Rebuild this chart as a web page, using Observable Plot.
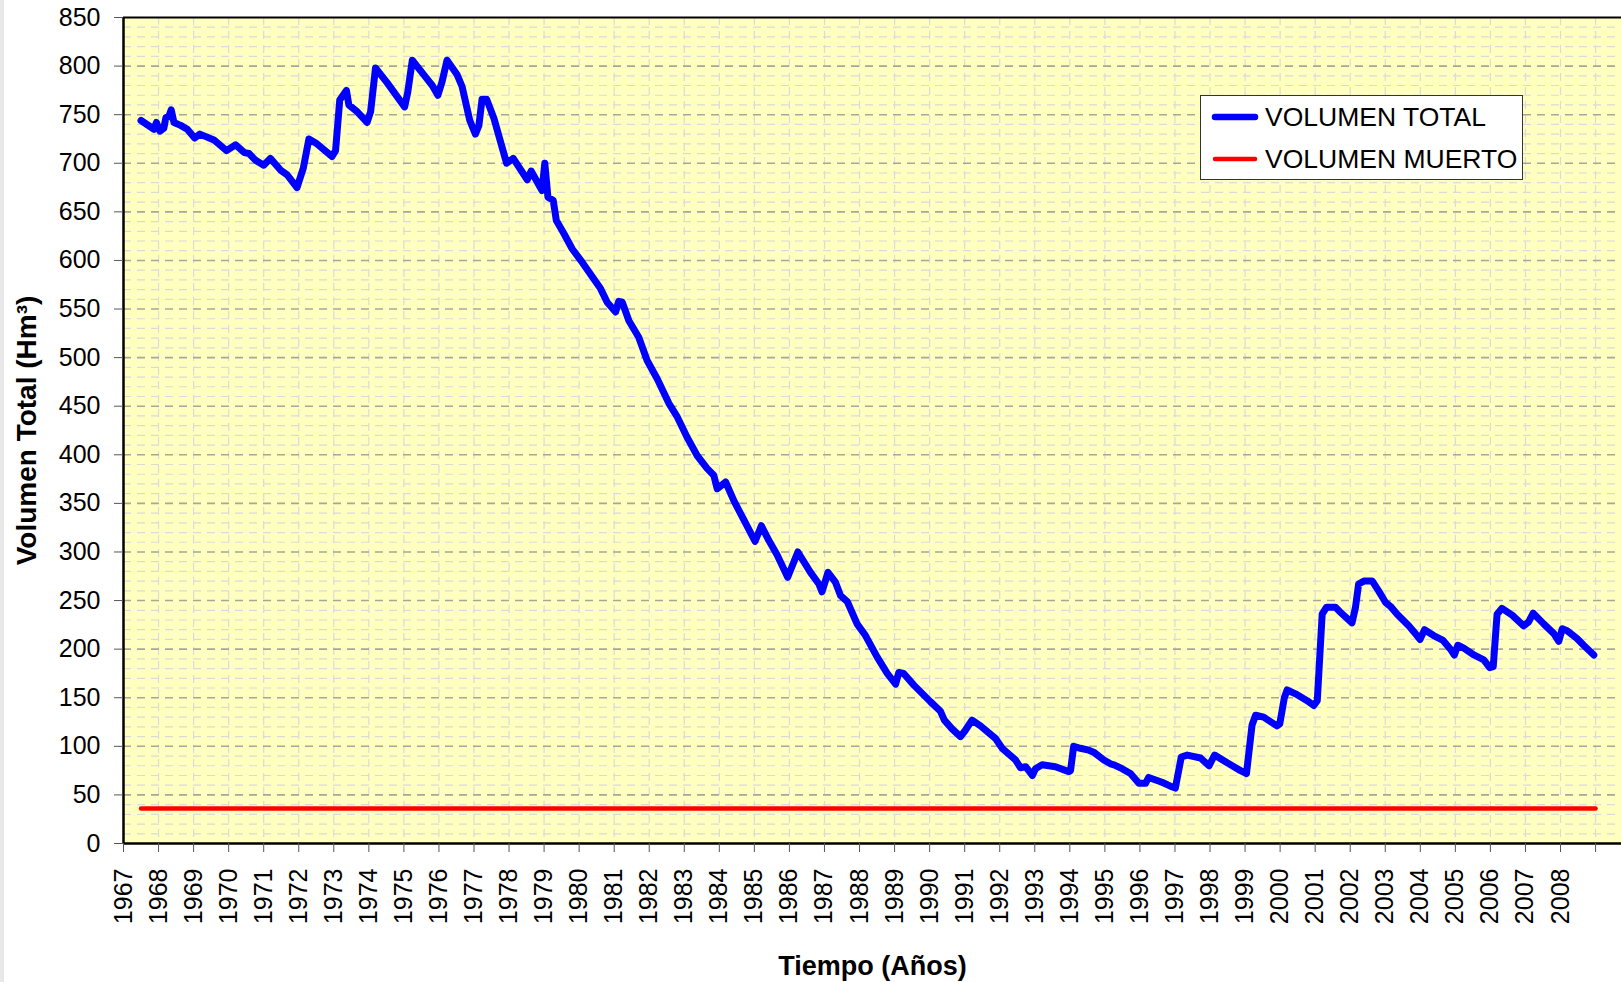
<!DOCTYPE html>
<html>
<head>
<meta charset="utf-8">
<script src="https://cdn.jsdelivr.net/npm/d3@7"></script>
<script src="https://cdn.jsdelivr.net/npm/@observablehq/plot@0.6"></script>
<style>
  html, body { margin: 0; padding: 0; background: #ffffff; }
  #wrap { position: relative; width: 1621px; height: 982px; overflow: hidden; font-family: "Liberation Sans", Arial, sans-serif; }
  #strip { position: absolute; left: 0; top: 0; width: 4px; height: 982px; background: #e8e8e8; }
  #chart svg [aria-label="x-axis label"] { font-weight: bold; font-size: 27px; }
  #chart svg [aria-label="y-axis label"] { font-weight: bold; font-size: 28px; }
  #legend { position: absolute; left: 1200px; top: 95px; width: 321px; height: 83px; border: 1px solid #333; background: #fff; }
  #legend .row { position: absolute; left: 0; height: 30px; display: flex; align-items: center; font-size: 26.5px; color: #000; white-space: nowrap; }
  #legend svg { display: block; margin-left: 10px; margin-right: 6px; }
</style>
</head>
<body>
<div id="wrap">
  <div id="strip"></div>
  <div id="chart"></div>
  <div id="legend">
    <div class="row" style="top: 6px;"><svg width="48" height="12"><line x1="4" x2="44" y1="6" y2="6" stroke="#0000ff" stroke-width="6.5" stroke-linecap="round"/></svg>VOLUMEN TOTAL</div>
    <div class="row" style="top: 48px;"><svg width="48" height="12"><line x1="4" x2="44" y1="6" y2="6" stroke="#ff0000" stroke-width="4.5" stroke-linecap="round"/></svg>VOLUMEN MUERTO</div>
  </div>
</div>
<script>
// Fechas (años decimales) y volumen total (Hm³)
const fecha = [
  1967.50, 1967.87, 1967.94, 1968.04, 1968.15, 1968.21, 1968.29, 1968.36, 1968.44, 1968.63,
  1968.82, 1969.03, 1969.18, 1969.58, 1969.94, 1970.20, 1970.45, 1970.58, 1970.77, 1971.00,
  1971.19, 1971.48, 1971.67, 1971.95, 1972.13, 1972.29, 1972.52, 1972.95, 1973.05, 1973.17,
  1973.36, 1973.43, 1973.67, 1973.95, 1974.05, 1974.19, 1974.52, 1975.02, 1975.11, 1975.24,
  1975.57, 1975.81, 1975.97, 1976.09, 1976.23, 1976.52, 1976.66, 1976.88, 1977.04, 1977.14,
  1977.23, 1977.36, 1977.57, 1977.93, 1978.12, 1978.52, 1978.63, 1978.94, 1979.02, 1979.11,
  1979.26, 1979.35, 1979.56, 1979.80, 1980.09, 1980.32, 1980.61, 1980.80, 1981.04, 1981.13,
  1981.23, 1981.42, 1981.70, 1981.94, 1982.23, 1982.56, 1982.80, 1983.08, 1983.37, 1983.65,
  1983.84, 1983.94, 1984.18, 1984.41, 1984.70, 1985.02, 1985.20, 1985.41, 1985.65, 1985.95,
  1986.24, 1986.60, 1986.84, 1986.93, 1987.10, 1987.31, 1987.46, 1987.65, 1987.93, 1988.17,
  1988.50, 1988.79, 1989.03, 1989.12, 1989.26, 1989.55, 1990.02, 1990.31, 1990.42, 1990.64,
  1990.88, 1991.01, 1991.21, 1991.45, 1991.88, 1992.07, 1992.45, 1992.59, 1992.74, 1992.93,
  1993.02, 1993.21, 1993.59, 1993.97, 1994.02, 1994.11, 1994.30, 1994.54, 1994.68, 1994.97,
  1995.16, 1995.26, 1995.49, 1995.73, 1995.97, 1996.16, 1996.25, 1996.63, 1996.87, 1997.01,
  1997.18, 1997.35, 1997.73, 1997.97, 1998.13, 1998.49, 1998.87, 1999.04, 1999.20, 1999.30,
  1999.53, 1999.91, 1999.99, 2000.12, 2000.20, 2000.44, 2000.77, 2000.96, 2001.06, 2001.20,
  2001.32, 2001.58, 2001.72, 2002.05, 2002.15, 2002.24, 2002.39, 2002.63, 2002.81, 2003.01,
  2003.15, 2003.34, 2003.67, 2003.86, 2003.99, 2004.12, 2004.38, 2004.65, 2004.86, 2004.97,
  2005.07, 2005.24, 2005.53, 2005.81, 2005.98, 2006.08, 2006.19, 2006.33, 2006.62, 2006.95,
  2007.09, 2007.22, 2007.52, 2007.81, 2007.95, 2008.05, 2008.19, 2008.47, 2008.66, 2008.95
];
const volumenTotal = [
  744, 735, 742, 733, 736, 747, 748, 755, 742, 739,
  735, 726, 730, 724, 713, 719, 711, 710, 703, 698,
  705, 693, 688, 675, 695, 725, 720, 707, 713, 765,
  775, 760, 753, 742, 753, 798, 783, 758, 773, 806,
  791, 780, 770, 784, 806, 791, 779, 744, 730, 739,
  766, 766, 746, 700, 705, 683, 692, 672, 700, 665,
  662, 641, 628, 612, 598, 586, 571, 557, 547, 558,
  557, 538, 521, 497, 478, 453, 439, 418, 399, 386,
  379, 365, 372, 353, 333, 311, 327, 312, 297, 274,
  300, 279, 267, 259, 279, 269, 255, 249, 226, 214,
  192, 175, 164, 176, 175, 163, 146, 136, 127, 118,
  110, 116, 127, 121, 108, 98, 86, 78, 79, 70,
  77, 81, 79, 74, 75, 100, 98, 96, 94, 86,
  82, 81, 77, 72, 62, 62, 68, 63, 59, 57,
  89, 91, 88, 80, 91, 83, 75, 72, 122, 132,
  130, 121, 123, 150, 158, 154, 147, 142, 147, 236,
  243, 243, 238, 227, 243, 267, 270, 270, 260, 248,
  244, 236, 224, 216, 210, 220, 214, 209, 200, 194,
  204, 201, 194, 189, 181, 182, 236, 242, 235, 224,
  228, 237, 226, 216, 208, 221, 219, 211, 204, 194
];
// Volumen muerto (constante)
const muertoFecha = [1967.5, 2009.0];
const muertoValor = [36, 36];

// Ticks
const anios = d3.range(1967, 2010);          // 1967 … 2009 (2009 sin etiqueta)
const ticksY = d3.range(0, 851, 50);
const menoresY = d3.range(10, 850, 10).filter(v => v % 50 !== 0);
const mayoresY = d3.range(50, 850, 50);

const serie = fecha.map((f, i) => ({f, v: volumenTotal[i]}));
const muerto = muertoFecha.map((f, i) => ({f, v: muertoValor[i]}));

const chart = Plot.plot({
  width: 1621,
  height: 982,
  marginLeft: 123,
  marginRight: 0,
  marginTop: 17,
  marginBottom: 139,
  style: {fontFamily: "'Liberation Sans', Arial, sans-serif", background: "transparent", color: "#000"},
  x: {domain: [1967, 2009.74]},
  y: {domain: [0, 850]},
  marks: [
    Plot.frame({fill: "#FFFFC0", stroke: null}),
    Plot.ruleY(menoresY, {stroke: "#dadada", strokeDasharray: "8,6", strokeWidth: 1.2}),
    Plot.ruleX(anios.slice(1), {stroke: "#dadada", strokeDasharray: "8,6", strokeWidth: 1.2}),
    Plot.ruleY(mayoresY, {stroke: "#a6a69c", strokeDasharray: "8,6", strokeWidth: 1.6}),
    Plot.line(muerto, {x: "f", y: "v", stroke: "#ff0000", strokeWidth: 4.5, strokeLinecap: "round"}),
    Plot.line(serie, {x: "f", y: "v", stroke: "#0000ff", strokeWidth: 7, strokeLinejoin: "round", strokeLinecap: "round"}),
    Plot.ruleY([850], {stroke: "#000", strokeWidth: 2}),
    Plot.ruleY([0], {stroke: "#000", strokeWidth: 2.5}),
    Plot.ruleX([1967], {stroke: "#000", strokeWidth: 2.5}),
    Plot.axisY(ticksY, {
      tickSize: 9, tickPadding: 14, fontSize: 25, stroke: "#555",
      tickFormat: d => String(d),
      label: "Volumen Total (Hm³)", labelAnchor: "center", labelArrow: "none", labelOffset: 107
    }),
    Plot.axisX(anios, {
      tickSize: 9, tickPadding: 16, fontSize: 25, tickRotate: -90, stroke: "#555",
      tickFormat: d => d === 2009 ? "" : String(d),
      label: "Tiempo (Años)", labelAnchor: "center", labelArrow: "none", labelOffset: 131
    })
  ]
});
document.getElementById("chart").appendChild(chart);
</script>
</body>
</html>
